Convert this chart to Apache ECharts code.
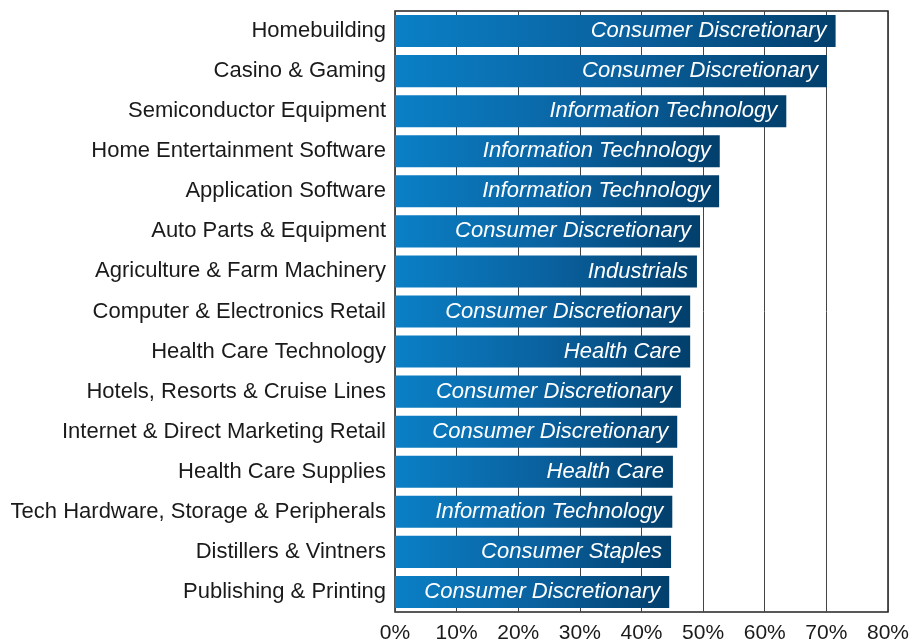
<!DOCTYPE html>
<html><head><meta charset="utf-8">
<script src="https://cdn.jsdelivr.net/npm/echarts@6/dist/echarts.min.js"></script>
<style>html,body{margin:0;padding:0;background:#fff}#c{width:912px;height:644px}</style>
</head><body><div id="c"></div>
<script>
const categories = ["Homebuilding","Casino & Gaming","Semiconductor Equipment","Home Entertainment Software","Application Software","Auto Parts & Equipment","Agriculture & Farm Machinery","Computer & Electronics Retail","Health Care Technology","Hotels, Resorts & Cruise Lines","Internet & Direct Marketing Retail","Health Care Supplies","Tech Hardware, Storage & Peripherals","Distillers & Vintners","Publishing & Printing"];
const values = [71.5, 70.1, 63.5, 52.7, 52.6, 49.5, 49.0, 47.9, 47.9, 46.4, 45.8, 45.1, 45.0, 44.8, 44.5];
const sectors = ["Consumer Discretionary","Consumer Discretionary","Information Technology","Information Technology","Information Technology","Consumer Discretionary","Industrials","Consumer Discretionary","Health Care","Consumer Discretionary","Consumer Discretionary","Health Care","Information Technology","Consumer Staples","Consumer Discretionary"];
const xTicks = [0,10,20,30,40,50,60,70,80];

const chart = echarts.init(document.getElementById('c'), null, {renderer:'canvas'});
const FONT = '"Liberation Sans", Arial, sans-serif';
chart.setOption({
  animation:false,
  grid:{left:395, right:24, top:11, bottom:31, containLabel:false, show:true, borderColor:'#222', borderWidth:1.5},
  xAxis:{type:'value', min:0, max:80, interval:10,
    axisLine:{show:false}, axisTick:{show:false},
    splitLine:{show:true, lineStyle:{color:'#444', width:1}},
    axisLabel:{formatter:v=>v+'%', fontFamily:FONT, fontSize:21, color:'#1a1a1a', margin:11}},
  yAxis:{type:'category', data:categories, inverse:true,
    axisLine:{show:false}, axisTick:{show:false},
    axisLabel:{fontFamily:FONT, fontSize:22, color:'#1a1a1a', margin:9}},
  series:[{type:'bar', barCategoryGap:'20%',
    data:values.map((v,i)=>({value:v, sector:sectors[i]})),
    itemStyle:{color:new echarts.graphic.LinearGradient(0,0,1,0,[{offset:0,color:'#0a80c6'},{offset:0.5,color:'#0a62a0'},{offset:1,color:'#023f6c'}])},
    label:{show:true, position:'insideRight', distance:9,
      formatter:p=>sectors[p.dataIndex],
      color:'#fff', fontStyle:'italic', fontFamily:FONT, fontSize:22}
  }]
});
</script></body></html>
